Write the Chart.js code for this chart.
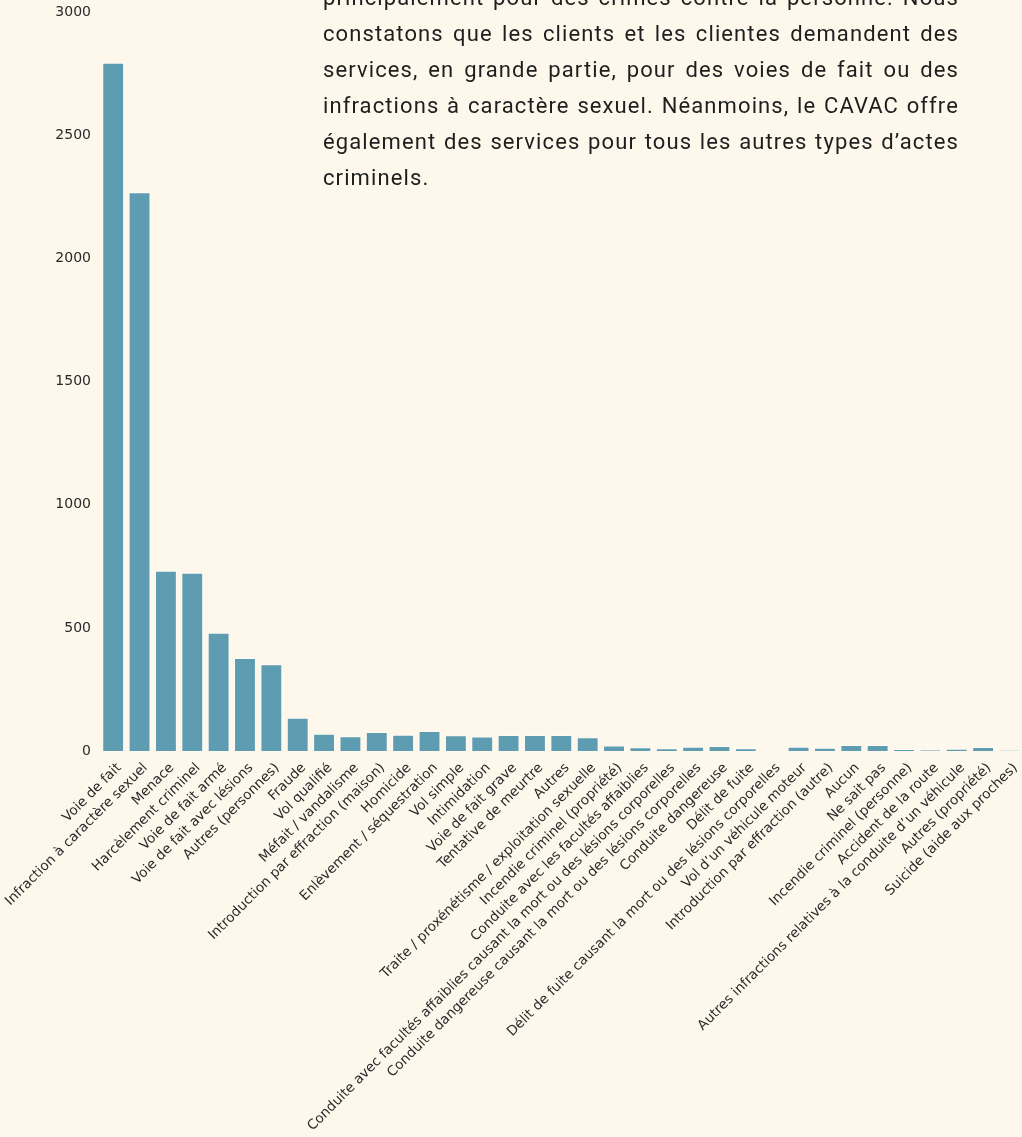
<!DOCTYPE html>
<html lang="fr">
<head>
<meta charset="utf-8">
<script src="https://cdn.jsdelivr.net/npm/chart.js@4/dist/chart.umd.min.js"></script>
<style>
  html, body { margin: 0; padding: 0; background: #fef8ec; overflow: hidden; width: 1022px; height: 1137px; }
  #wrap { position: absolute; left: 0; top: -5px; width: 1030px; height: 1142px; }
  #para {
    position: absolute; left: 323px; top: -20px; width: 636px;
    font-family: Roboto, "Noto Sans", sans-serif; font-size: 22px; line-height: 36px;
    color: #1e1e1e; letter-spacing: 1.1px; z-index: 2;
  }
  #para span { display: block; text-align: justify; text-align-last: justify; }
  #para span.last { text-align-last: left; }
</style>
</head>
<body>
<div id="wrap"><canvas id="c"></canvas></div>
<div id="para">
  <span>principalement pour des crimes contre la personne. Nous</span>
  <span>constatons que les clients et les clientes demandent des</span>
  <span>services, en grande partie, pour des voies de fait ou des</span>
  <span>infractions à caractère sexuel. Néanmoins, le CAVAC offre</span>
  <span>également des services pour tous les autres types d’actes</span>
  <span class="last">criminels.</span>
</div>
<script>
const categories = [
  "Voie de fait",
  "Infraction à caractère sexuel",
  "Menace",
  "Harcèlement criminel",
  "Voie de fait armé",
  "Voie de fait avec lésions",
  "Autres (personnes)",
  "Fraude",
  "Vol qualifié",
  "Méfait / vandalisme",
  "Introduction par effraction (maison)",
  "Homicide",
  "Enlèvement / séquestration",
  "Vol simple",
  "Intimidation",
  "Voie de fait grave",
  "Tentative de meurtre",
  "Autres",
  "Traite / proxénétisme / exploitation sexuelle",
  "Incendie criminel (propriété)",
  "Conduite avec les facultés affaiblies",
  "Conduite avec facultés affaiblies causant la mort ou des lésions corporelles",
  "Conduite dangereuse causant la mort ou des lésions corporelles",
  "Conduite dangereuse",
  "Délit de fuite",
  "Délit de fuite causant la mort ou des lésions corporelles",
  "Vol d’un véhicule moteur",
  "Introduction par effraction (autre)",
  "Aucun",
  "Ne sait pas",
  "Incendie criminel (personne)",
  "Accident de la route",
  "Autres infractions relatives à la conduite d’un véhicule",
  "Autres (propriété)",
  "Suicide (aide aux proches)"
];
const counts = [
  2795, 2270, 732, 724, 480, 378, 352, 135, 70, 60,
  77, 66, 81, 64, 59, 65, 65, 65, 56, 22,
  15, 11, 17, 20, 11, 0, 17, 13, 24, 24,
  8, 5, 9, 16, 3
];
const yMin = 0, yMax = 3000, yStep = 500;

const canvas = document.getElementById('c');
canvas.style.width = '1030px';
canvas.style.height = '1142px';

new Chart(canvas, {
  type: 'bar',
  data: {
    labels: categories,
    datasets: [{
      data: counts,
      backgroundColor: '#5e9cb2',
      borderColor: 'rgba(255,255,255,0.55)',
      borderWidth: 1,
      barPercentage: 0.83,
      categoryPercentage: 1.0
    }]
  },
  options: {
    responsive: false,
    animation: false,
    devicePixelRatio: 1,
    layout: { padding: { top: 3, left: 0, right: 0, bottom: 0 } },
    plugins: { legend: { display: false }, tooltip: { enabled: false } },
    scales: {
      x: {
        grid: { display: false, drawTicks: false },
        border: { display: false },
        ticks: {
          autoSkip: false, minRotation: 45, maxRotation: 45,
          color: '#2a2a2a', padding: 9, labelOffset: 6,
          font: { family: 'DejaVu Sans', size: 13.6 }
        },
        afterFit: (s) => { s.height = 386; }
      },
      y: {
        min: yMin, max: yMax,
        grid: { display: false, drawTicks: false },
        border: { display: false },
        ticks: {
          stepSize: yStep, color: '#2a2a2a', padding: 9,
          font: { family: 'DejaVu Sans', size: 14 },
          callback: (v) => String(v)
        },
        afterFit: (s) => { s.width = 100; }
      }
    }
  }
});
</script>
</body>
</html>
